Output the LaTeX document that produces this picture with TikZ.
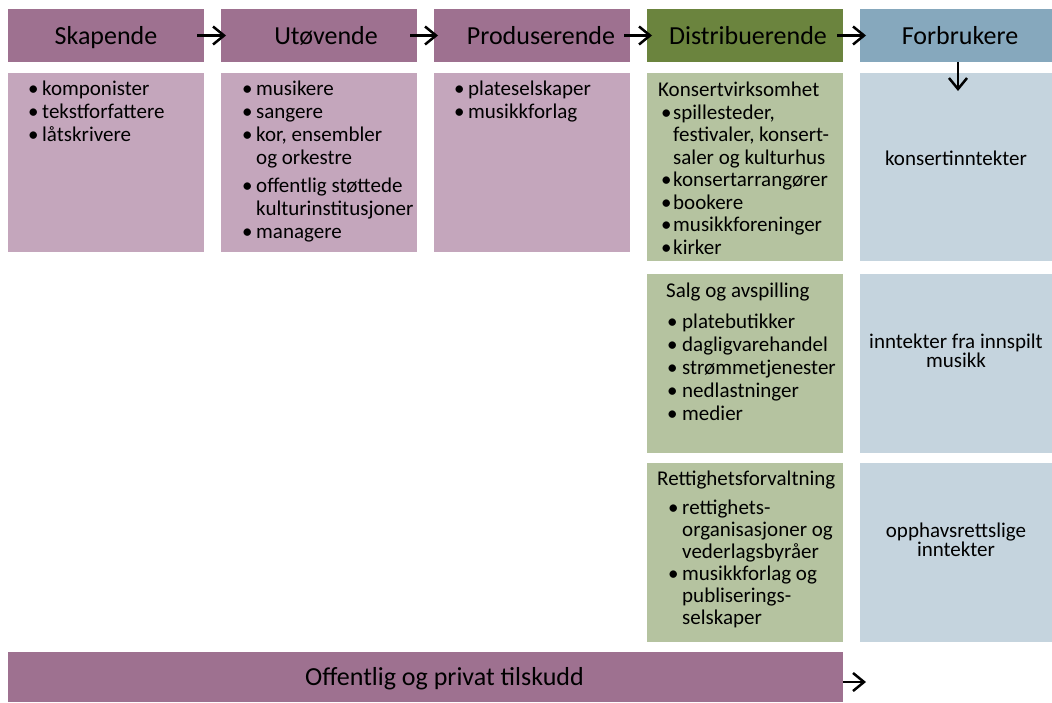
\documentclass[tikz,border=0pt]{standalone}
\usepackage{fontspec}
\setmainfont{Carlito}
\usetikzlibrary{arrows.meta}

\definecolor{plumdark}{HTML}{9E7190}
\definecolor{plumlight}{HTML}{C4A6BC}
\definecolor{olivedark}{HTML}{6B843E}
\definecolor{olivelight}{HTML}{B5C3A0}
\definecolor{steeldark}{HTML}{86A8BD}
\definecolor{steellight}{HTML}{C5D4DE}

% bullet in a box of given width
\newcommand\bul[1][14pt]{\makebox[#1][l]{\textbullet}}

\tikzset{
  box/.style={anchor=north west, inner sep=0pt, outer sep=0pt, minimum width=196pt},
  head/.style={box, minimum height=53pt, text height=22pt, text depth=5pt,
    font=\fontsize{26}{30}\selectfont},
  list/.style={anchor=north west, inner sep=0pt, font=\fontsize{21}{23}\selectfont},
  note/.style={inner sep=0pt, align=center, font=\fontsize{21}{17}\selectfont},
  arr/.style={line width=2.5pt, -{Straight Barb[length=11pt,width=18pt]}}
}

\begin{document}
\begin{tikzpicture}[x=1pt, y=-1pt]
  \useasboundingbox (0,0) rectangle (1052,702);

  % value chain
  \node[head, fill=plumdark] (skap) at (8,9) {Skapende};
  \node[head, fill=plumdark] (utov) at (221,9) {\hspace*{14pt}Utøvende};
  \node[head, fill=plumdark] (prod) at (434,9) {\hspace*{18pt}Produserende};
  \node[head, fill=olivedark] (dist) at (647,9) {\hspace*{6pt}Distribuerende};
  \node[head, fill=steeldark, minimum width=192pt] (forb) at (860,9) {\hspace*{8pt}Forbrukere};

  \node[box, fill=plumlight, minimum height=179pt] (skapB) at (8,73) {};
  \node[box, fill=plumlight, minimum height=179pt] (utovB) at (221,73) {};
  \node[box, fill=plumlight, minimum height=179pt] (prodB) at (434,73) {};
  \node[box, fill=olivelight, minimum height=188pt] (konsB) at (647,73) {};
  \node[box, fill=olivelight, minimum height=179pt] (salgB) at (647,274) {};
  \node[box, fill=olivelight, minimum height=179pt] (rettB) at (647,463) {};
  \node[box, fill=steellight, minimum width=192pt, minimum height=188pt] (konsI) at (860,73) {};
  \node[box, fill=steellight, minimum width=192pt, minimum height=179pt] (salgI) at (860,274) {};
  \node[box, fill=steellight, minimum width=192pt, minimum height=179pt] (rettI) at (860,463) {};

  \node[box, fill=plumdark, minimum width=835pt, minimum height=50pt, text height=22pt,
    text depth=5pt, font=\fontsize{26}{30}\selectfont] (tilsk) at (8,652)
    {\hspace*{38pt}Offentlig og privat tilskudd};

  % lists
  \node[list] (skapL) at ([xshift=20pt, yshift=-6pt]skapB.north west) {%
    \begin{tabular}{@{}l@{}l@{}}
      \bul & komponister\\ \bul & tekstforfattere\\ \bul & låtskrivere
    \end{tabular}};
  \node[list] (utovL) at ([xshift=21pt, yshift=-6pt]utovB.north west) {%
    \begin{tabular}{@{}l@{}l@{}}
      \bul & musikere\\ \bul & sangere\\ \bul & kor, ensembler\\ & og orkestre\\[5pt]
      \bul & offentlig støttede\\ & kulturinstitusjoner\\ \bul & managere
    \end{tabular}};
  \node[list] (prodL) at ([xshift=20pt, yshift=-6pt]prodB.north west) {%
    \begin{tabular}{@{}l@{}l@{}}
      \bul & plateselskaper\\ \bul & musikkforlag
    \end{tabular}};
  \node[list, font=\fontsize{21}{22.5}\selectfont] (konsL) at ([xshift=11pt, yshift=-8pt]konsB.north west) {%
    \begin{tabular}{@{\hspace{3pt}}l@{}l@{}}
      \multicolumn{2}{@{}l@{}}{Konsertvirksomhet}\\
      \bul[12pt] & spillesteder,\\ & festivaler, konsert-\\ & saler og kulturhus\\
      \bul[12pt] & konsertarrangører\\ \bul[12pt] & bookere\\
      \bul[12pt] & musikkforeninger\\ \bul[12pt] & kirker
    \end{tabular}};
  \node[list] (salgL) at ([xshift=19pt, yshift=-7pt]salgB.north west) {%
    \begin{tabular}{@{\hspace{1pt}}l@{}l@{}}
      \multicolumn{2}{@{}l@{}}{Salg og avspilling}\\[8pt]
      \bul[15pt] & platebutikker\\ \bul[15pt] & dagligvarehandel\\
      \bul[15pt] & strømmetjenester\\ \bul[15pt] & nedlastninger\\ \bul[15pt] & medier
    \end{tabular}};
  \node[list, font=\fontsize{21}{22}\selectfont] (rettL) at ([xshift=10pt, yshift=-7pt]rettB.north west) {%
    \begin{tabular}{@{\hspace{11pt}}l@{}l@{}}
      \multicolumn{2}{@{}l@{}}{Rettighetsforvaltning}\\[7pt]
      \bul & rettighets-\\ & organisasjoner og\\ & vederlagsbyråer\\
      \bul & musikkforlag og\\ & publiserings-\\ & selskaper
    \end{tabular}};

  \node[note] (konsT) at ([yshift=9pt]konsI.center) {konsertinntekter};
  \node[note] (salgT) at ([yshift=13pt]salgI.center) {inntekter fra innspilt\\musikk};
  \node[note] (rettT) at ([yshift=13pt]rettI.center) {opphavsrettslige\\inntekter};

  % arrows
  \draw[arr] ([xshift=-7pt]skap.east) -- ([xshift=5pt]utov.west);
  \draw[arr] ([xshift=-7pt]utov.east) -- ([xshift=4pt]prod.west);
  \draw[arr] ([xshift=-6pt]prod.east) -- ([xshift=5pt]dist.west);
  \draw[arr] ([xshift=-6pt]dist.east) -- ([xshift=6pt]forb.west);
  \draw[arr] ([xshift=2pt]forb.south) -- ([xshift=2pt, yshift=-18pt]konsI.north);
  \coordinate (tilskEnd) at (866,682);
  \draw[arr] (tilsk.east |- tilskEnd) -- (tilskEnd);
\end{tikzpicture}
\end{document}
